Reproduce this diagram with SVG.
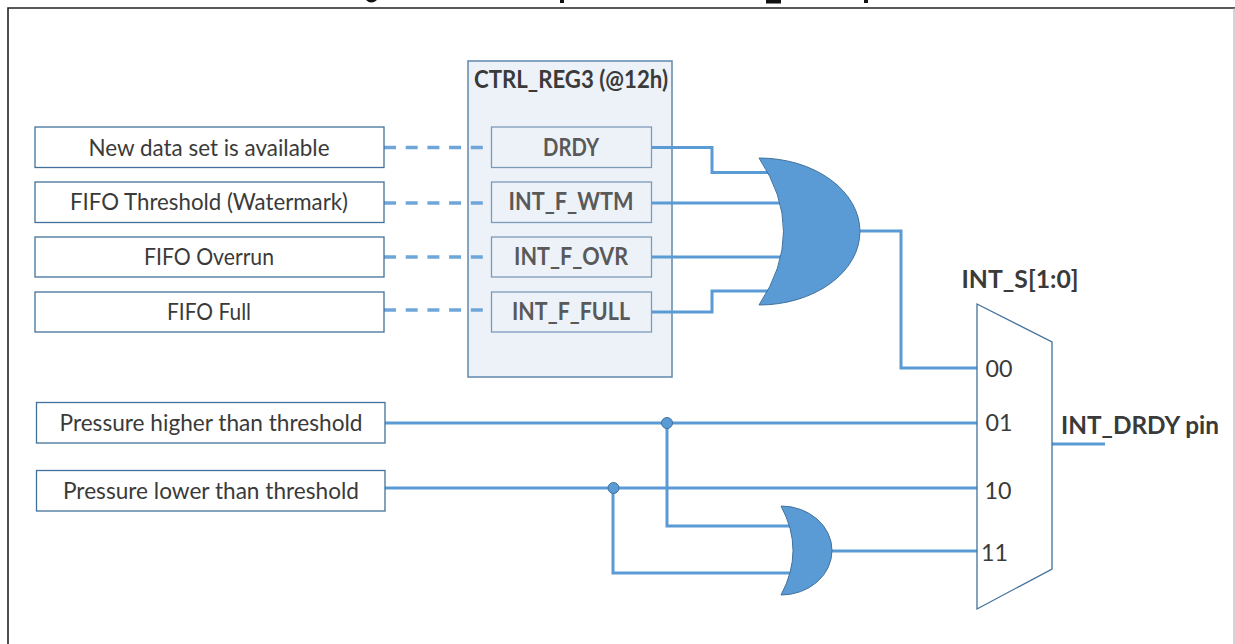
<svg xmlns="http://www.w3.org/2000/svg" width="1235" height="644" viewBox="0 0 1235 644">
<style>
text{font-family:Lato,"Noto Sans","Liberation Sans",sans-serif;fill:#3a3a3a;text-anchor:middle;font-size:24px}
.b{font-weight:700}
.g{fill:#595959}
.box{fill:#fff;stroke:#41719c;stroke-width:1.3}
.inner{fill:#edf2f9;stroke:#7d99b8;stroke-width:1.3}
.w{fill:none;stroke:#5b9bd5;stroke-width:3}
.d{fill:none;stroke:#6ea6da;stroke-width:3.500;stroke-dasharray:12 9.700}
.gate{fill:#5b9bd5;stroke:#41719c;stroke-width:1}
.dot{fill:#5b9bd5;stroke:#41719c;stroke-width:1}
.clip{fill:#111}
</style>
<rect width="1235" height="644" fill="#fff"/>
<rect class="clip" x="560" y="0" width="4" height="3"/><rect class="clip" x="766" y="0" width="15" height="3.500"/><rect class="clip" x="864" y="0" width="4" height="3"/><path d="M366 0Q371 5 377 0Z" class="clip"/>
<path d="M8 644V8H1235" fill="none" stroke="#222" stroke-width="1.600"/>
<path d="M1234 8V644" stroke="#aaa" stroke-width="1"/>
<g id="ctrl-reg3"><rect x="468" y="61" width="204" height="316" fill="#edf2f9" stroke="#5f88ad" stroke-width="1.500"/><text class="b" x="571" y="88" textLength="194" lengthAdjust="spacingAndGlyphs">CTRL_REG3 (@12h)</text></g>
<g id="connectors">
<path class="d" d="M384 147.500H492"/><path class="d" d="M384 203H492"/><path class="d" d="M384 257H492"/><path class="d" d="M384 310H492"/>
<path class="w" d="M651 147.500H712V172.500H770"/>
<path class="w" d="M651 203H782"/>
<path class="w" d="M651 257H782"/>
<path class="w" d="M651 312H712V291H770"/>
<path class="w" d="M860 231H901V368H977"/>
<path class="w" d="M385 423H977"/>
<path class="w" d="M385 488H977"/>
<path class="w" d="M667 423V526H790"/>
<path class="w" d="M613 488V573H792"/>
<path class="w" d="M832 551H977"/>
<path class="w" d="M1052 444H1105"/>
</g>
<g id="src-drdy"><rect class="box" x="35" y="127" width="349" height="40.500"/><text x="209" y="156" textLength="241" lengthAdjust="spacingAndGlyphs">New data set is available</text></g>
<g id="src-wtm"><rect class="box" x="35" y="182" width="349" height="40.500"/><text x="209" y="210" textLength="278" lengthAdjust="spacingAndGlyphs">FIFO Threshold (Watermark)</text></g>
<g id="src-ovr"><rect class="box" x="35" y="237" width="349" height="40"/><text x="209" y="265" textLength="130" lengthAdjust="spacingAndGlyphs">FIFO Overrun</text></g>
<g id="src-full"><rect class="box" x="35" y="292" width="349" height="40"/><text x="209" y="320" textLength="84" lengthAdjust="spacingAndGlyphs">FIFO Full</text></g>
<g id="reg-drdy"><rect class="inner" x="491.500" y="127" width="160" height="40.500"/><text class="b g" x="571" y="156" textLength="56" lengthAdjust="spacingAndGlyphs">DRDY</text></g>
<g id="reg-wtm"><rect class="inner" x="491.500" y="182" width="160" height="40.500"/><text class="b g" x="571" y="210" textLength="125" lengthAdjust="spacingAndGlyphs">INT_F_WTM</text></g>
<g id="reg-ovr"><rect class="inner" x="491.500" y="237" width="160" height="40"/><text class="b g" x="571" y="265" textLength="114" lengthAdjust="spacingAndGlyphs">INT_F_OVR</text></g>
<g id="reg-full"><rect class="inner" x="491.500" y="292" width="160" height="40"/><text class="b g" x="571" y="320" textLength="118" lengthAdjust="spacingAndGlyphs">INT_F_FULL</text></g>
<g id="or-main"><path class="gate" d="M759 158A101 73.500 0 0 1 759 305Q808 231.500 759 158Z"/></g>
<g id="or-small"><path class="gate" d="M781 506A51 44.500 0 0 1 781 595Q805 550.500 781 506Z"/></g>
<g id="src-high"><rect class="box" x="36.500" y="402.500" width="348.500" height="40.500"/><text x="211" y="431" textLength="303" lengthAdjust="spacingAndGlyphs">Pressure higher than threshold</text></g>
<g id="src-low"><rect class="box" x="36.500" y="470.500" width="348.500" height="40.500"/><text x="211" y="499" textLength="296" lengthAdjust="spacingAndGlyphs">Pressure lower than threshold</text></g>
<g id="jn-high"><circle class="dot" cx="667" cy="423" r="5.500"/></g>
<g id="jn-low"><circle class="dot" cx="613.500" cy="488" r="5.500"/></g>
<g id="mux"><path d="M977 304L1052 342V569L977 609Z" fill="#fff" stroke="#41719c" stroke-width="1.300"/>
<text x="999" y="377" textLength="27" lengthAdjust="spacingAndGlyphs">00</text><text x="999" y="431" textLength="27" lengthAdjust="spacingAndGlyphs">01</text><text x="998" y="499" textLength="27" lengthAdjust="spacingAndGlyphs">10</text><text x="994.500" y="561" textLength="27" lengthAdjust="spacingAndGlyphs">11</text></g>
<text class="b" x="1020" y="288" textLength="117" lengthAdjust="spacingAndGlyphs">INT_S[1:0]</text>
<text class="b" x="1140" y="434" textLength="158" lengthAdjust="spacingAndGlyphs">INT_DRDY pin</text>
</svg>
